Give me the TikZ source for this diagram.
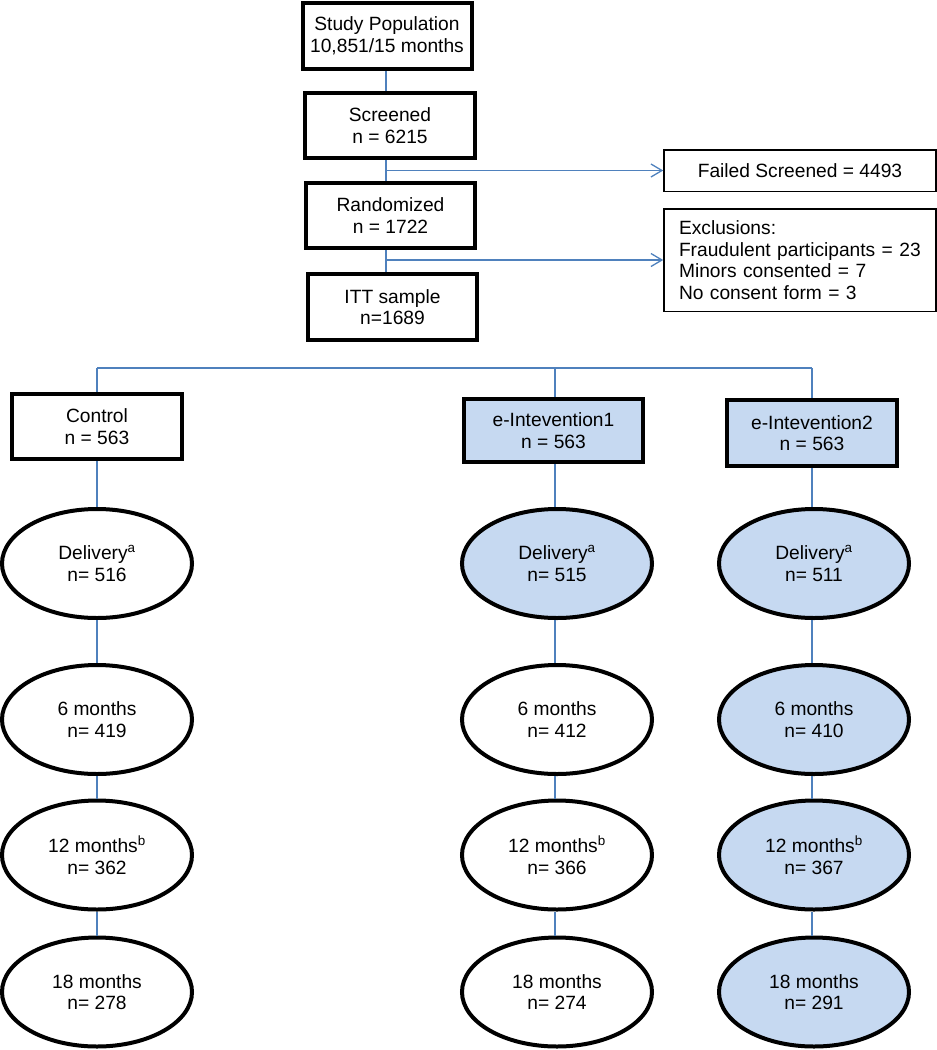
\documentclass[tikz,border=0pt]{standalone}
\usepackage{fontspec}
\setmainfont{Liberation Sans}
\usetikzlibrary{arrows.meta,shapes.geometric}
\definecolor{boxfill}{RGB}{198,217,241}
\definecolor{connblue}{RGB}{79,129,189}
\begin{document}
\begin{tikzpicture}[x=1pt,y=-1pt,
  every node/.style={font=\fontsize{19.2}{21.6}\selectfont, align=center, inner sep=0pt},
  bbox/.style={draw=black, line width=4pt, rectangle, fill=white},
  bluebox/.style={bbox, fill=boxfill},
  tbox/.style={draw=black, line width=1.5pt, rectangle, fill=white, minimum width=272pt},
  oval/.style={draw=black, line width=4pt, ellipse, minimum width=190pt, minimum height=109pt, fill=white},
  blueoval/.style={oval, fill=boxfill},
  conn/.style={draw=connblue, line width=1.3pt},
  arr/.style={conn, -{Straight Barb[length=11pt,width=13pt]}}]
\useasboundingbox (0,0) rectangle (937,1050);
% top chain
\node[bbox, minimum width=169pt, minimum height=66pt] (study) at (387,36) {Study Population\\10,851/15 months};
\node[bbox, minimum width=170pt, minimum height=65pt] (screened) at (390,125.5) {Screened\\n = 6215};
\node[bbox, minimum width=169pt, minimum height=65pt] (rand) at (390.5,215.5) {Randomized\\n = 1722};
\node[bbox, minimum width=169pt, minimum height=66pt] (itt) at (392.5,307) {ITT sample\\n=1689};
\node[tbox, minimum height=41.5pt] (failed) at (800,170.5) {Failed Screened = 4493};
\node[tbox, minimum height=102.5pt, align=left, text width=242pt] (excl) at (800,260) {Exclusions:\\Fraudulent participants = 23\\Minors consented = 7\\No consent form = 3};
\coordinate (sp) at (386,0);
\draw[conn] (sp |- study.south) -- (sp |- screened.north);
\draw[conn] (sp |- screened.south) -- (sp |- rand.north);
\draw[conn] (sp |- rand.south) -- (sp |- itt.north);
\draw[arr] (sp |- failed.west) -- (failed.west);
\draw[arr] (sp |- excl.west) -- (excl.west);
% arms
\node[bbox, minimum width=170pt, minimum height=65pt] (ctrl) at (97,426.5) {Control\\n = 563};
\node[bluebox, minimum width=179pt, minimum height=63pt] (int1) at (553.5,430.5) {e-Intevention1\\n = 563};
\node[bluebox, minimum width=170pt, minimum height=66pt] (int2) at (812,433) {e-Intevention2\\n = 563};
% control column
\node[oval] (del0) at (97,563.5) {Delivery\textsuperscript{a}\\n= 516};
\node[oval] (six0) at (97,719.5) {6 months\\n= 419};
\node[oval] (twe0) at (97,855) {12 months\textsuperscript{b}\\n= 362};
\node[oval] (eig0) at (97,992) {18 months\\n= 278};
% intervention 1 column
\node[blueoval] (del1) at (557,563.5) {Delivery\textsuperscript{a}\\n= 515};
\node[oval] (six1) at (557,719.5) {6 months\\n= 412};
\node[oval] (twe1) at (557,855) {12 months\textsuperscript{b}\\n= 366};
\node[oval] (eig1) at (557,992) {18 months\\n= 274};
% intervention 2 column
\node[blueoval] (del2) at (814,563.5) {Delivery\textsuperscript{a}\\n= 511};
\node[blueoval] (six2) at (814,719.5) {6 months\\n= 410};
\node[blueoval] (twe2) at (814,855) {12 months\textsuperscript{b}\\n= 367};
\node[blueoval] (eig2) at (814,992) {18 months\\n= 291};
% branch
\coordinate (br) at (0,368);
\coordinate (c0) at (97,0);
\coordinate (c1) at (555,0);
\coordinate (c2) at (812,0);
\draw[conn] (c0 |- br) -- (c2 |- br);
\draw[conn] (c0 |- br) -- (c0 |- ctrl.north);
\draw[conn] (c1 |- br) -- (c1 |- int1.north);
\draw[conn] (c2 |- br) -- (c2 |- int2.north);
% column connectors
\draw[conn] (c0 |- ctrl.south) -- (c0 |- del0.north);
\draw[conn] (c0 |- del0.south) -- (c0 |- six0.north);
\draw[conn] (c0 |- six0.south) -- (c0 |- twe0.north);
\draw[conn] (c0 |- twe0.south) -- (c0 |- eig0.north);
\draw[conn] (c1 |- int1.south) -- (c1 |- del1.north);
\draw[conn] (c1 |- del1.south) -- (c1 |- six1.north);
\draw[conn] (c1 |- six1.south) -- (c1 |- twe1.north);
\draw[conn] (c1 |- twe1.south) -- (c1 |- eig1.north);
\draw[conn] (c2 |- int2.south) -- (c2 |- del2.north);
\draw[conn] (c2 |- del2.south) -- (c2 |- six2.north);
\draw[conn] (c2 |- six2.south) -- (c2 |- twe2.north);
\draw[conn] (c2 |- twe2.south) -- (c2 |- eig2.north);
\end{tikzpicture}
\end{document}
